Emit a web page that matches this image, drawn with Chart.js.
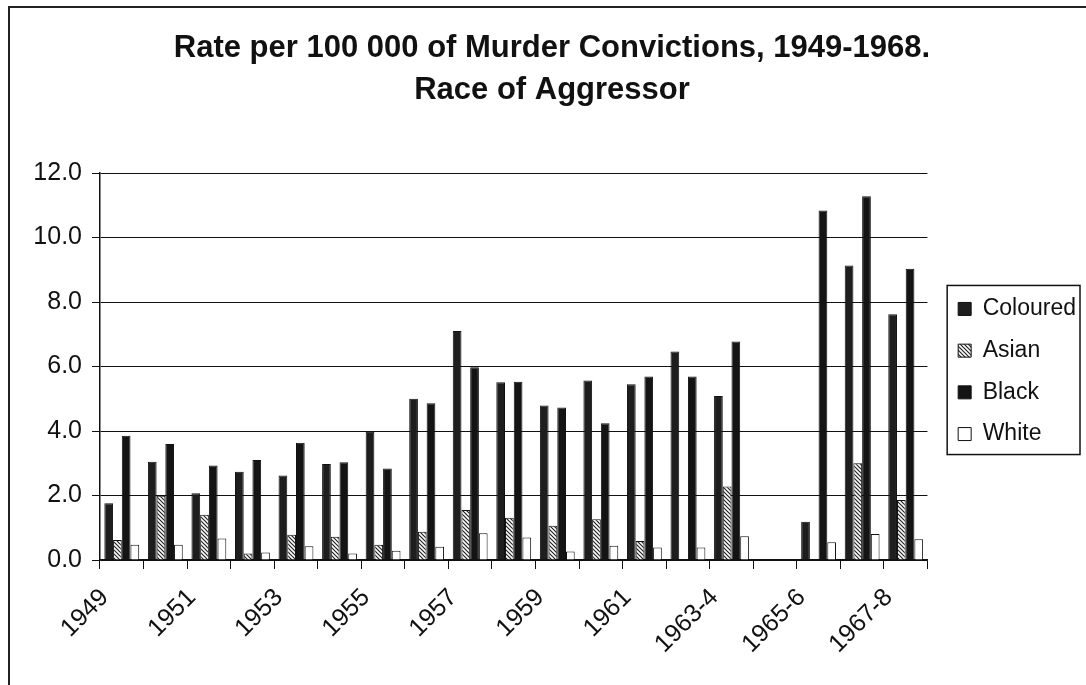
<!DOCTYPE html>
<html>
<head>
<meta charset="utf-8">
<script src="https://cdn.jsdelivr.net/npm/chart.js@4/dist/chart.umd.min.js"></script>
<style>
  body { margin: 0; background: #fff; }
  #wrap { width: 1086px; height: 685px; position: relative; }
</style>
</head>
<body>
<div id="wrap"><canvas id="myChart"></canvas></div>
<script>
var years = ["1949", "1950", "1951", "1952", "1953", "1954", "1955", "1956", "1957", "1958",
             "1959", "1960", "1961", "1962", "1963-4", "1964-5", "1965-6", "1966-7", "1967-8"];

// rate per 100 000, one value per period
var coloured = [1.76, 3.05, 2.07, 2.74, 2.62, 2.98, 3.98, 5.00, 7.10, 5.51, 4.79, 5.57, 5.45, 6.47, 5.09, null, 1.19, 9.13, 7.62];
var asian    = [0.62, 1.99, 1.40, 0.20, 0.78, 0.72, 0.47, 0.88, 1.55, 1.31, 1.06, 1.26, 0.59, null, 2.28, null, null, 3.00, 1.86];
var black    = [3.85, 3.60, 2.93, 3.10, 3.64, 3.03, 2.84, 4.86, 5.98, 5.53, 4.73, 4.24, 5.69, 5.69, 6.78, null, 10.84, 11.28, 9.03];
var white    = [0.47, 0.47, 0.67, 0.23, 0.43, 0.20, 0.29, 0.41, 0.83, 0.70, 0.26, 0.44, 0.39, 0.39, 0.74, null, 0.55, 0.81, 0.64];

var yTicks = [0, 2, 4, 6, 8, 10, 12];

var FONT = "'Liberation Sans', Arial, sans-serif";
var INK = '#111';

// diagonal hatch for the Asian bars
function hatch() {
    var c = document.createElement('canvas');
    c.width = 4; c.height = 4;
    var g = c.getContext('2d');
    g.fillStyle = '#fff';
    g.fillRect(0, 0, 4, 4);
    g.strokeStyle = '#222';
    g.lineWidth = 1.2;
    g.beginPath();
    g.moveTo(-1, -1); g.lineTo(5, 5);
    g.moveTo(-1, 3); g.lineTo(1, 5);
    g.moveTo(3, -1); g.lineTo(5, 1);
    g.stroke();
    return g.createPattern(c, 'repeat');
}

// outer frame + white background
var framePlugin = {
    id: 'frame',
    beforeDraw: function(chart) {
        var ctx = chart.ctx;
        ctx.save();
        ctx.fillStyle = '#fff';
        ctx.fillRect(0, 0, chart.width, chart.height);
        ctx.strokeStyle = '#222';
        ctx.lineWidth = 2;
        ctx.strokeRect(9, 7, chart.width + 50, chart.height + 50);
        ctx.restore();
    }
};

// box drawn round the legend entries
var legendBox = {
    id: 'legendBox',
    afterDraw: function(chart) {
        var lg = chart.legend;
        if (!lg || !lg.legendHitBoxes || !lg.legendHitBoxes.length) return;
        var hb = lg.legendHitBoxes;
        var last = hb[hb.length - 1];
        var right = 0;
        hb.forEach(function(h) { right = Math.max(right, h.left + h.width); });
        var ctx = chart.ctx;
        var l = hb[0].left - 11, t = hb[0].top - 12;
        var r = Math.min(right + 4, chart.width - 4), b = last.top + last.height + 9;
        ctx.save();
        ctx.strokeStyle = INK;
        ctx.lineWidth = 1.5;
        ctx.strokeRect(l, t, r - l, b - t);
        ctx.restore();
    }
};

var ctx = document.getElementById("myChart").getContext('2d');

var myChart = new Chart(ctx, {
    type: 'bar',
    data: {
        labels: years,
        datasets: [
            { label: 'Coloured', data: coloured, backgroundColor: '#1e1e1e', borderColor: INK, borderWidth: 1 },
            { label: 'Asian', data: asian, backgroundColor: hatch(), borderColor: INK, borderWidth: 1 },
            { label: 'Black', data: black, backgroundColor: '#141414', borderColor: INK, borderWidth: 1 },
            { label: 'White', data: white, backgroundColor: '#fff', borderColor: INK, borderWidth: 1 }
        ]
    },
    plugins: [framePlugin, legendBox],
    options: {
        responsive: true,
        maintainAspectRatio: false,
        animation: false,
        categoryPercentage: 0.8,
        barPercentage: 1.0,
        layout: { padding: { left: 18, right: 0, top: 0, bottom: 0 } },
        plugins: {
            title: {
                display: true,
                text: ['Rate per 100 000 of Murder Convictions, 1949-1968.', 'Race of Aggressor'],
                color: INK,
                font: { family: FONT, size: 31, weight: 'bold', lineHeight: 1.34 },
                padding: { top: 28, bottom: 62 }
            },
            legend: {
                position: 'right',
                align: 'center',
                // blank title pushes the entries down
                title: { display: true, text: ' ', font: { size: 20, lineHeight: 1.2 }, padding: 17 },
                labels: {
                    color: INK,
                    font: { family: FONT, size: 23 },
                    boxWidth: 13,
                    boxHeight: 13,
                    padding: 18.7
                }
            },
            tooltip: { enabled: false }
        },
        scales: {
            x: {
                grid: { offset: true, drawOnChartArea: false, drawTicks: true, tickLength: 9, color: INK, lineWidth: 1 },
                border: { display: true, color: INK, width: 1.5 },
                ticks: {
                    color: INK,
                    font: { family: FONT, size: 25 },
                    autoSkip: false,
                    minRotation: 45,
                    maxRotation: 45,
                    padding: 14,
                    labelOffset: -17,
                    callback: function(val, i) { return i % 2 === 0 ? this.getLabelForValue(val) : ''; }
                },
                afterFit: function(s) { s.height = 125; }
            },
            y: {
                min: 0,
                max: 12,
                grid: { color: INK, lineWidth: 1, tickLength: 8 },
                border: { display: true, color: INK, width: 1.5 },
                ticks: {
                    color: INK,
                    font: { family: FONT, size: 25 },
                    padding: 10,
                    stepSize: 2,
                    callback: function(v) { return yTicks.indexOf(v) >= 0 ? v.toFixed(1) : ''; }
                },
                afterFit: function(s) { s.width = 82; }
            },
            // empty strip between plot and legend
            gap: {
                position: 'right',
                display: true,
                grid: { display: false },
                border: { display: false },
                ticks: { display: false },
                afterFit: function(s) { s.width = 12; }
            }
        }
    }
});
</script>
</body>
</html>
